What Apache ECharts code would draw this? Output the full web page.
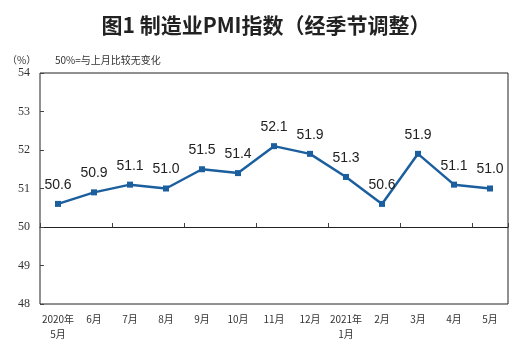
<!DOCTYPE html>
<html><head><meta charset="utf-8">
<script src="https://cdn.jsdelivr.net/npm/echarts@6/dist/echarts.min.js"></script>
<style>html,body{margin:0;padding:0;background:#fff}#c{width:532px;height:356px}</style>
</head><body><div id="c"></div>
<script>
const categories = ['2020年\n5月','6月','7月','8月','9月','10月','11月','12月','2021年\n1月','2月','3月','4月','5月'];
const pmi = [50.6, 50.9, 51.1, 51.0, 51.5, 51.4, 52.1, 51.9, 51.3, 50.6, 51.9, 51.1, 51.0];
const yTicks = [48, 49, 50, 51, 52, 53, 54];

const chart = echarts.init(document.getElementById('c'), null, {renderer: 'canvas'});
const cjk = '"Noto Sans CJK SC", sans-serif';
chart.setOption({
  animation: false,
  backgroundColor: '#fff',
  title: [
    {text: '图1 制造业PMI指数（经季节调整）', left: 'center', top: 10,
     textStyle: {fontFamily: cjk, fontSize: 21, fontWeight: 'bold', color: '#222'}},
    {text: '（%）', left: 2, top: 50, textStyle: {fontFamily: cjk, fontSize: 10, fontWeight: 'normal', color: '#333'}},
    {text: '50%=与上月比较无变化', left: 50, top: 50, textStyle: {fontFamily: cjk, fontSize: 10, fontWeight: 'normal', color: '#333'}}
  ],
  grid: {left: 40, right: 24, top: 73, bottom: 52, show: true, borderColor: '#222', borderWidth: 1, backgroundColor: 'transparent'},
  xAxis: [
    {type: 'category', data: categories, position: 'bottom', boundaryGap: true,
     axisLine: {show: false}, axisTick: {show: false},
     axisLabel: {fontFamily: cjk, fontSize: 10, color: '#333', margin: 8, lineHeight: 15, interval: 0}},
    {type: 'category', data: categories, position: 'bottom', offset: -77, boundaryGap: true,
     axisLine: {show: true, lineStyle: {color: '#222', width: 1}},
     axisTick: {show: true, inside: true, length: 4, lineStyle: {color: '#444'}},
     axisLabel: {show: false}}
  ],
  yAxis: {type: 'value', min: yTicks[0], max: yTicks[yTicks.length - 1], interval: 1,
    axisLine: {show: false}, splitLine: {show: false},
    axisTick: {show: true, inside: true, length: 4, lineStyle: {color: '#444'}},
    axisLabel: {fontFamily: '"Liberation Serif", serif', fontSize: 12, color: '#333', margin: 10}},
  series: [{
    type: 'line', data: pmi, xAxisIndex: 0,
    symbol: 'rect', symbolSize: 6,
    lineStyle: {color: '#1b5f9e', width: 2.5},
    itemStyle: {color: '#1b5f9e'},
    label: {show: true, position: 'top', distance: 9, formatter: p => p.value.toFixed(1),
      fontFamily: '"Liberation Sans", Arial, sans-serif', fontSize: 14, color: '#222'}
  }]
});
</script></body></html>
